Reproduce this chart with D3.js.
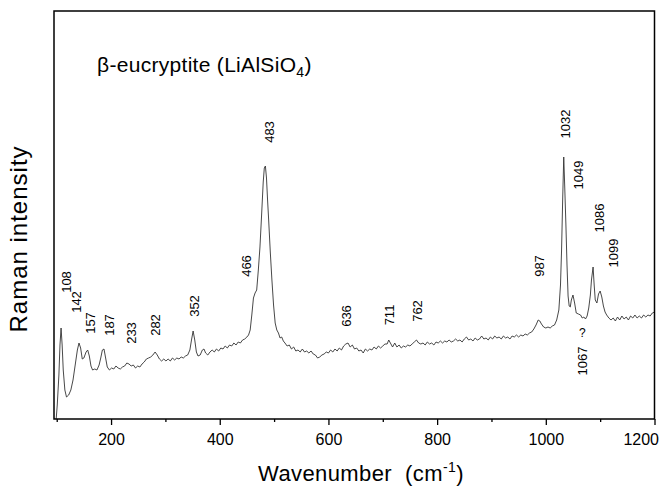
<!DOCTYPE html>
<html>
<head>
<meta charset="utf-8">
<script src="https://cdn.jsdelivr.net/npm/d3@7"></script>
<style>
  html, body { margin: 0; padding: 0; background: #fff; }
  svg { display: block; font-family: "Liberation Sans", Arial, Helvetica, sans-serif; }
</style>
</head>
<body>
<svg id="chart" width="659" height="489"></svg>
<script>
// ---- data (intensity in arbitrary units) ----
const wavenumber = [
  99,101,104,106,108,110,112,115,118,122,126,130,134,138,141,144,147,150,154,157,160,163,166,170,174,178,181,184,187,190,193,197,
  201,205,209,213,217,221,225,229,233,237,241,245,249,253,257,261,265,269,273,277,281,285,289,293,297,
  301,305,309,313,317,321,325,329,333,337,341,345,348,351,354,357,360,364,368,371,374,378,382,386,390,394,398,
  402,406,410,414,418,422,426,430,434,438,442,446,450,453,456,459,462,465,468,471,474,477,480,482,484,486,488,490,493,496,499,
  502,505,508,511,514,517,520,524,528,532,536,540,544,548,552,556,560,564,568,572,576,580,584,588,592,596,600,
  604,608,612,616,620,624,628,632,636,640,644,648,652,656,660,664,668,672,676,680,684,688,692,696,700,
  704,708,711,714,718,722,726,730,734,738,742,746,750,754,758,762,766,770,774,778,782,786,790,794,798,
  802,806,810,814,818,822,826,830,834,838,842,846,850,854,858,862,866,870,874,878,882,886,890,894,898,
  902,906,910,914,918,922,926,930,934,938,942,946,950,954,958,962,966,970,974,978,982,986,989,992,996,
  1000,1004,1008,1012,1016,1020,1024,1027,1029,1031,1033,1035,1037,1039,1041,1043,1045,1047,1050,1053,1056,1060,1064,1067,1070,1073,1076,1079,1082,1084,1087,1089,1091,1094,1097,
  1100,1103,1106,1109,1112,1116,1120,1124,1128,1132,1136,1140,1144,1148,1152,1156,1160,1164,1168,1172,1176,1180,1184,1188,1192,1196,1200
];
const intensity = [
  0,14,44,74,91,74,49,29,22,24,29,39,54,69,76,71,60,61,67,69,63,53,49,50,49,54,61,69,70,61,52,49,
  51,50,53,51,50,52,53,56,55,53,54,51,53,52,55,57,60,61,62,64,67,64,60,58,60,
  58,60,58,61,59,61,60,62,61,63,64,69,79,88,79,67,63,64,69,70,66,64,67,69,67,70,68,
  71,70,73,71,74,73,76,74,77,76,79,80,82,84,89,104,121,126,129,149,172,204,237,251,253,241,219,199,167,139,114,
  96,89,86,81,82,78,76,73,74,70,72,68,69,67,70,67,68,66,68,65,64,61,62,64,65,67,66,
  69,67,70,68,71,69,73,75,76,72,74,70,71,68,69,66,70,68,70,69,72,70,73,71,73,
  75,75,79,76,72,76,72,74,71,73,72,74,73,75,77,79,76,75,76,74,77,75,76,74,77,
  76,78,76,78,77,79,77,78,80,78,79,77,80,82,79,80,78,81,79,80,83,80,81,79,82,
  80,83,81,82,80,83,81,82,80,83,82,84,82,84,83,85,84,86,87,90,94,99,98,95,92,
  91,92,91,93,94,99,109,134,169,219,262,229,194,154,123,113,112,119,124,116,106,105,104,101,102,100,103,111,124,139,152,134,119,116,125,
  128,122,113,107,104,101,99,101,98,102,99,103,100,102,99,103,101,104,101,103,101,104,102,104,103,106,107
];
const peakLabels = ["108","142","157","187","233","282","352","466","483","636","711","762","987","1032","1049","1086","1099","1067"];
// annotation anchor (wavenumber, intensity) for each label
const labelAtWavenumber = [118,137,163,198,238,282,353,450,491,634,712,763,988,1036,1061,1098,1124,1067];
const labelAtIntensity  = [137,117,96,94,86,94,113,153,287,103,104,108,153,295,244,201,166,58];
const majorTicks = [200,400,600,800,1000,1200];
const minorTicks = [100,300,500,700,900,1100];
const xDomain = [95, 1200];
const yDomain = [0, 408];

// ---- layout ----
const svg = d3.select("#chart");
const m = { left: 54, right: 4.5, top: 11, bottom: 70 };
const W = 659, H = 489;
const x = d3.scaleLinear().domain(xDomain).range([m.left, W - m.right]);
const y = d3.scaleLinear().domain(yDomain).range([H - m.bottom, m.top]);

svg.append("defs").append("clipPath").attr("id", "clip")
  .append("rect").attr("x", m.left).attr("y", m.top)
  .attr("width", W - m.right - m.left).attr("height", H - m.bottom - m.top);

// spectrum
const pts = wavenumber.map((w, i) => [w, intensity[i]]);
svg.append("path")
  .datum(pts)
  .attr("clip-path", "url(#clip)")
  .attr("fill", "none")
  .attr("stroke", "#333")
  .attr("stroke-width", 0.9)
  .attr("stroke-linejoin", "round")
  .attr("d", d3.line().x(d => x(d[0])).y(d => y(d[1])));

// x axis (major + minor)
const gx = svg.append("g").attr("transform", `translate(0,${H - m.bottom})`)
  .call(d3.axisBottom(x).tickValues(majorTicks).tickSize(6).tickPadding(9).tickFormat(d3.format("d")));
gx.select(".domain").remove();
gx.selectAll("text").attr("font-size", 16).attr("fill", "#000")
  .attr("font-family", "'Liberation Sans', Arial, sans-serif");
gx.selectAll(".tick").filter(d => d === xDomain[1]).select("text")
  .attr("text-anchor", "end").attr("x", 4);
gx.selectAll("line").attr("stroke", "#000").attr("stroke-width", 1.3);
const gm = svg.append("g").attr("transform", `translate(0,${H - m.bottom})`)
  .call(d3.axisBottom(x).tickValues(minorTicks).tickSize(3).tickFormat(""));
gm.select(".domain").remove();
gm.selectAll("line").attr("stroke", "#000").attr("stroke-width", 1.3);

// frame
svg.append("rect")
  .attr("x", m.left).attr("y", m.top)
  .attr("width", W - m.right - m.left).attr("height", H - m.bottom - m.top)
  .attr("fill", "none").attr("stroke", "#000").attr("stroke-width", 1.5);

// peak labels (rotated)
svg.append("g").selectAll("text")
  .data(peakLabels)
  .join("text")
  .attr("transform", (d, i) => `translate(${x(labelAtWavenumber[i])},${y(labelAtIntensity[i])}) rotate(-90)`)
  .attr("text-anchor", "middle")
  .attr("dominant-baseline", "central")
  .attr("font-size", 13)
  .attr("fill", "#000")
  .text(d => d);

// question mark near 1067
svg.append("text")
  .attr("x", x(1067)).attr("y", y(86))
  .attr("text-anchor", "middle").attr("dominant-baseline", "central")
  .attr("font-size", 12).attr("fill", "#000").text("?");

// title
const t = svg.append("text").attr("x", 97).attr("y", 72).attr("font-size", 21)
  .attr("letter-spacing", 0.3).attr("fill", "#000");
t.append("tspan").text("β-eucryptite (LiAlSiO");
t.append("tspan").attr("font-size", 14).attr("dy", 5).text("4");
t.append("tspan").attr("dy", -5).text(")");

// x label
const xl = svg.append("text").attr("x", 361).attr("y", 481).attr("text-anchor", "middle")
  .attr("font-size", 22).attr("letter-spacing", 0.4).attr("fill", "#000").attr("xml:space", "preserve");
xl.append("tspan").text("Wavenumber  (cm");
xl.append("tspan").attr("font-size", 14).attr("dy", -9).text("-1");
xl.append("tspan").attr("dy", 9).text(")");

// y label
svg.append("text")
  .attr("transform", `translate(27,239) rotate(-90)`)
  .attr("text-anchor", "middle")
  .attr("font-size", 24).attr("letter-spacing", 1)
  .attr("fill", "#000")
  .text("Raman intensity");
</script>
</body>
</html>
